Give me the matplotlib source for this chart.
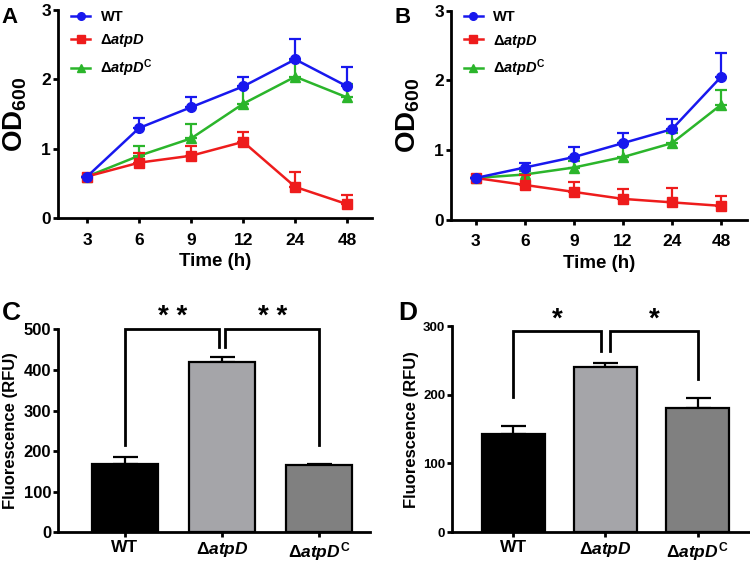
import matplotlib
matplotlib.use("Agg")
import matplotlib.pyplot as plt
from matplotlib.lines import Line2D
import numpy as np

plt.rcParams['font.family'] = ['Liberation Sans', 'DejaVu Sans']
plt.rcParams['font.weight'] = 'bold'
plt.rcParams['mathtext.fontset'] = 'custom'
plt.rcParams['mathtext.rm'] = 'Liberation Sans:bold'
plt.rcParams['mathtext.it'] = 'Liberation Sans:italic:bold'
plt.rcParams['mathtext.bf'] = 'Liberation Sans:bold'

# ---------------- data ----------------
time_labels = ['3', '6', '9', '12', '24', '48']
series_labels = ['WT', r'$\Delta\mathit{atpD}$', r'$\Delta\mathit{atpD}^{\mathrm{C}}$']

A_wt = [0.60, 1.30, 1.60, 1.90, 2.29, 1.90]
A_wt_err = [0.0, 0.14, 0.14, 0.13, 0.29, 0.28]
A_mut = [0.60, 0.80, 0.90, 1.10, 0.45, 0.20]
A_mut_err = [0.0, 0.14, 0.14, 0.14, 0.21, 0.14]
A_comp = [0.60, 0.90, 1.15, 1.65, 2.04, 1.74]
A_comp_err = [0.0, 0.14, 0.21, 0.23, 0.22, 0.20]

B_wt = [0.60, 0.75, 0.90, 1.10, 1.30, 2.05]
B_wt_err = [0.0, 0.07, 0.14, 0.14, 0.14, 0.35]
B_mut = [0.60, 0.50, 0.40, 0.30, 0.25, 0.20]
B_mut_err = [0.0, 0.14, 0.14, 0.14, 0.21, 0.14]
B_comp = [0.60, 0.65, 0.75, 0.90, 1.10, 1.65]
B_comp_err = [0.0, 0.05, 0.09, 0.20, 0.14, 0.21]

bar_labels = ['WT', r'$\Delta\mathit{atpD}$', r'$\Delta\mathit{atpD}^{\mathrm{C}}$']
C_vals = [169, 419, 166]
C_err = [16, 12, 3]
D_vals = [143, 241, 181]
D_err = [11, 5, 14]

colors = ['#1818ee', '#ee1c1c', '#2bb52b']
markers = ['o', 's', '^']
bar_colors = ['#000000', '#a5a5a9', '#808080']

fig = plt.figure(figsize=(7.5, 5.65), dpi=100)


def style_axes(ax, lw=2.0):
    for s in ['top', 'right']:
        ax.spines[s].set_visible(False)
    for s in ['left', 'bottom']:
        ax.spines[s].set_linewidth(lw)
    ax.tick_params(direction='out', length=3.5, width=lw)


def line_panel(rect, wt, wt_e, mut, mut_e, comp, comp_e, xlim, letter):
    ax = fig.add_axes(rect)
    x = np.arange(len(time_labels))
    data = [(wt, wt_e), (mut, mut_e), (comp, comp_e)]
    for i in [2, 1, 0]:
        v, e = data[i]
        ax.errorbar(x, v, yerr=[np.zeros(len(e)), e], color=colors[i],
                    marker=markers[i], markersize=7, lw=1.8,
                    capsize=4.5, capthick=1.6, elinewidth=1.6,
                    zorder=3 + (2 - i))
    ax.set_ylim(0, 3)
    ax.set_yticks([0, 1, 2, 3])
    ax.set_xlim(*xlim)
    ax.set_xticks(x)
    ax.set_xticklabels(time_labels)
    style_axes(ax)
    ax.tick_params(axis='x', labelsize=12.5, pad=7)
    ax.tick_params(axis='y', labelsize=12.5, pad=1.5)
    for t in ax.get_xticklabels() + ax.get_yticklabels():
        t.set_fontweight('bold')
    ax.set_xlabel('Time (h)', fontsize=13.5, fontweight='bold', labelpad=4)
    ax.set_ylabel(r'$\mathrm{OD}_{\mathrm{600}}$', fontsize=20, labelpad=9)
    handles = [Line2D([], [], color=colors[i], marker=markers[i], lw=1.8,
                      markersize=5.5) for i in range(3)]
    leg = ax.legend(handles, series_labels,
                    loc='upper left', bbox_to_anchor=(0.01, 1.05), frameon=False,
                    fontsize=10.5, handlelength=1.3, labelspacing=0.55,
                    handletextpad=0.7, borderaxespad=0.3)
    for t in leg.get_texts():
        t.set_fontweight('bold')
    fig.text(rect[0] - 0.075, 0.988, letter, fontsize=16, fontweight='bold',
             va='top', ha='left')
    return ax


line_panel([0.0773, 0.614, 0.419, 0.368], A_wt, A_wt_err, A_mut, A_mut_err,
           A_comp, A_comp_err, (-0.56, 5.48), 'A')
line_panel([0.601, 0.611, 0.395, 0.370], B_wt, B_wt_err, B_mut, B_mut_err,
           B_comp, B_comp_err, (-0.51, 5.53), 'B')


def bar_panel(rect, vals, errs, ymax, yticks, xlim, tick_fs, ylab_fs, ylab_pad,
              brackets, star, star_y, letter, letter_x):
    ax = fig.add_axes(rect)
    x = np.arange(len(vals))
    ax.bar(x, vals, width=0.68, color=bar_colors, edgecolor='black',
           linewidth=1.6, zorder=2)
    ax.errorbar(x, vals, yerr=[np.zeros(len(errs)), errs], fmt='none',
                ecolor='black', elinewidth=1.6, capsize=9, capthick=1.6,
                zorder=1)
    ax.set_ylim(0, ymax)
    ax.set_yticks(yticks)
    ax.set_xlim(*xlim)
    ax.set_xticks(x)
    ax.set_xticklabels(bar_labels)
    style_axes(ax)
    ax.tick_params(axis='y', labelsize=tick_fs, pad=1.5)
    ax.tick_params(axis='x', labelsize=12.5, pad=2)
    for t in ax.get_xticklabels() + ax.get_yticklabels():
        t.set_fontweight('bold')
    ax.set_ylabel('Fluorescence (RFU)', fontsize=ylab_fs, fontweight='bold',
                  labelpad=ylab_pad)
    # significance brackets
    for (x0, x1, y0, y1, ytop) in brackets:
        ax.plot([x0, x0, x1, x1], [y0, ytop, ytop, y1], color='black',
                lw=2.0, clip_on=False, solid_joinstyle='miter', zorder=4)
    for (xa, xb) in [(brackets[0][0], brackets[0][1]), (brackets[1][0], brackets[1][1])]:
        ax.text((xa + xb) / 2, star_y, star, ha='center', va='center',
                fontsize=20, fontweight='bold', clip_on=False)
    fig.text(letter_x, 0.468, letter, fontsize=19, fontweight='bold',
             va='top', ha='left')
    return ax


bar_panel([0.0773, 0.058, 0.416, 0.359], C_vals, C_err, 500,
          [0, 100, 200, 300, 400, 500], (-0.69, 2.52), 12, 12, 4,
          [(0.0, 0.97, 215, 456, 500), (1.03, 2.0, 456, 215, 500)],
          '* *', 530, 'C', 0.003)
bar_panel([0.603, 0.058, 0.395, 0.365], D_vals, D_err, 300,
          [0, 100, 200, 300], (-0.66, 2.55), 9.5, 12, 3,
          [(0.0, 0.95, 196, 263, 293), (1.05, 2.0, 263, 223, 293)],
          '*', 309, 'D', 0.531)

fig.savefig('out.png', dpi=100)
